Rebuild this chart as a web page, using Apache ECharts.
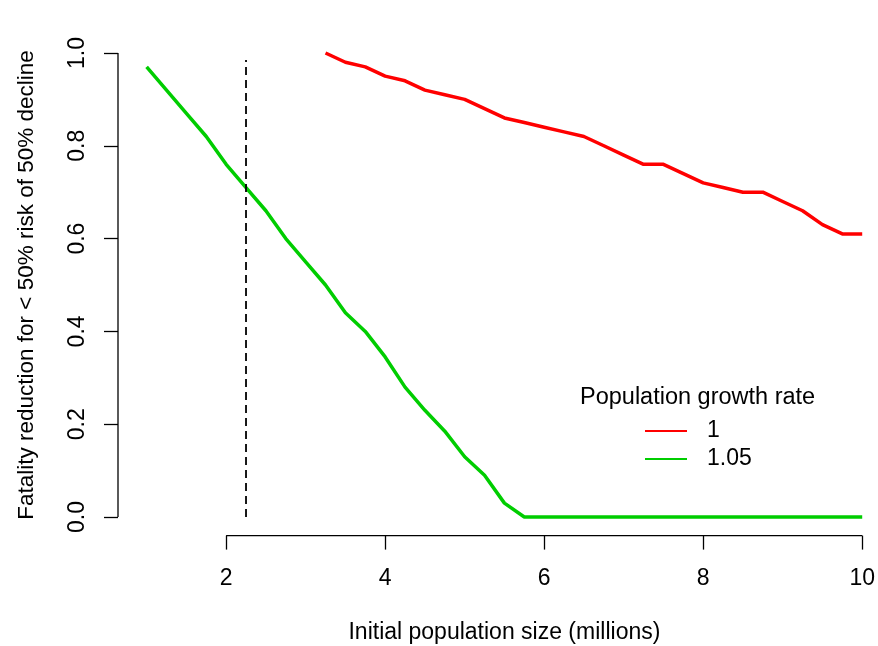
<!DOCTYPE html>
<html>
<head>
<meta charset="utf-8">
<script src="https://cdn.jsdelivr.net/npm/echarts@6/dist/echarts.min.js"></script>
<style>
html,body{margin:0;padding:0;background:#fff;}
#main{width:878px;height:646px;}
</style>
</head>
<body>
<div id="main"></div>
<script>
// ---- data ----
const greenX = [1, 1.25, 1.5, 1.75, 2, 2.25, 2.5, 2.75, 3, 3.25, 3.5, 3.75, 4, 4.25, 4.5, 4.75, 5, 5.25, 5.5, 5.75, 6, 6.25, 6.5, 6.75, 7, 7.25, 7.5, 7.75, 8, 8.25, 8.5, 8.75, 9, 9.25, 9.5, 9.75, 10];
const greenValues = [0.97, 0.92, 0.87, 0.82, 0.76, 0.71, 0.66, 0.60, 0.55, 0.50, 0.44, 0.40, 0.345, 0.28, 0.23, 0.185, 0.13, 0.09, 0.03, 0, 0, 0, 0, 0, 0, 0, 0, 0, 0, 0, 0, 0, 0, 0, 0, 0, 0];
const redX = [3.25, 3.5, 3.75, 4, 4.25, 4.5, 4.75, 5, 5.25, 5.5, 5.75, 6, 6.25, 6.5, 6.75, 7, 7.25, 7.5, 7.75, 8, 8.25, 8.5, 8.75, 9, 9.25, 9.5, 9.75, 10];
const redValues = [1.00, 0.98, 0.97, 0.95, 0.94, 0.92, 0.91, 0.90, 0.88, 0.86, 0.85, 0.84, 0.83, 0.82, 0.80, 0.78, 0.76, 0.76, 0.74, 0.72, 0.71, 0.70, 0.70, 0.68, 0.66, 0.63, 0.61, 0.61];
const refX = [2.25, 2.25];
const refY = [0, 0.985];
const xTicks = [2, 4, 6, 8, 10];
const yTicks = [0, 0.2, 0.4, 0.6, 0.8, 1.0];
const seriesNames = ['1', '1.05'];
const legendTitle = 'Population growth rate';
const xTitle = 'Initial population size (millions)';
const yTitle = 'Fatality reduction for < 50% risk of 50% decline';

const zip = (xs, ys) => xs.map((x, i) => [x, ys[i]]);
const FONT = 'Liberation Sans, Arial, sans-serif';
const FS = 23;
// plot region (R style 4% padding); the right part of it is cut off by the canvas edge
const X_MIN = 0.64, X_REGION_MAX = 10.36, X_VISIBLE_MAX = 10.176, Y_MIN = -0.04, Y_MAX = 1.04;

const chart = echarts.init(document.getElementById('main'), null, {renderer: 'canvas'});
const option = {
  backgroundColor: '#fff',
  animation: false,
  grid: {left: 118, right: 0, top: 34.4, bottom: 110.4, containLabel: false},
  xAxis: {
    type: 'value', min: X_MIN, max: X_VISIBLE_MAX,
    axisLine: {show: false, onZero: false},
    splitLine: {show: false},
    axisTick: {show: true, length: 14, customValues: xTicks, lineStyle: {color: '#000', width: 1.3}},
    axisLabel: {customValues: xTicks, margin: 32, color: '#000', fontSize: FS, fontFamily: FONT, formatter: v => String(v)}
  },
  yAxis: {
    type: 'value', min: Y_MIN, max: Y_MAX,
    axisLine: {show: false, onZero: false},
    splitLine: {show: false},
    axisTick: {show: true, length: 14, customValues: yTicks, lineStyle: {color: '#000', width: 1.3}},
    axisLabel: {customValues: yTicks, margin: 28.5, rotate: 90, color: '#000', fontSize: FS, fontFamily: FONT, formatter: v => v.toFixed(1)}
  },
  legend: {
    orient: 'vertical', left: 640, top: 414.5,
    itemWidth: 42, itemHeight: 2, itemGap: 5, icon: 'rect',
    textStyle: {fontSize: FS, fontFamily: FONT, color: '#000', padding: [0, 0, 0, 15]},
    data: seriesNames
  },
  graphic: [],
  series: [
    {name: seriesNames[0], type: 'line', data: zip(redX, redValues), showSymbol: false, symbol: 'none', color: '#FF0000', lineStyle: {color: '#FF0000', width: 3.5}, clip: false},
    {name: seriesNames[1], type: 'line', data: zip(greenX, greenValues), showSymbol: false, symbol: 'none', color: '#00CD00', lineStyle: {color: '#00CD00', width: 3.5}, clip: false},
    {name: 'ref', type: 'line', data: zip(refX, refY), showSymbol: false, symbol: 'none', lineStyle: {color: '#000', width: 1.8, type: [8, 5]}, clip: false}
  ]
};
chart.setOption(option);

// R-style axis lines spanning only from first to last tick, titles centred on the plot region
const px = v => chart.convertToPixel({gridIndex: 0}, v);
const xa0 = px([xTicks[0], Y_MIN]);
const xa1 = px([xTicks[xTicks.length - 1], Y_MIN]);
const ya0 = px([X_MIN, yTicks[0]]);
const ya1 = px([X_MIN, yTicks[yTicks.length - 1]]);
const centre = px([(X_MIN + X_REGION_MAX) / 2, (Y_MIN + Y_MAX) / 2]);
chart.setOption({graphic: [
  {type: 'line', shape: {x1: xa0[0], y1: xa0[1], x2: xa1[0], y2: xa1[1]}, style: {stroke: '#000', lineWidth: 1.3}},
  {type: 'line', shape: {x1: ya0[0], y1: ya0[1], x2: ya1[0], y2: ya1[1]}, style: {stroke: '#000', lineWidth: 1.3}},
  {type: 'text', x: 580, y: 398, style: {text: legendTitle, font: '23.5px ' + FONT, fill: '#000', align: 'left', verticalAlign: 'middle'}},
  {type: 'text', x: centre[0], y: 633, style: {text: xTitle, font: FS + 'px ' + FONT, fill: '#000', align: 'center', verticalAlign: 'middle'}},
  {type: 'text', x: 27, y: centre[1], rotation: Math.PI / 2, style: {text: yTitle, font: '22.5px ' + FONT, fill: '#000', align: 'center', verticalAlign: 'middle'}}
]});
</script>
</body>
</html>
